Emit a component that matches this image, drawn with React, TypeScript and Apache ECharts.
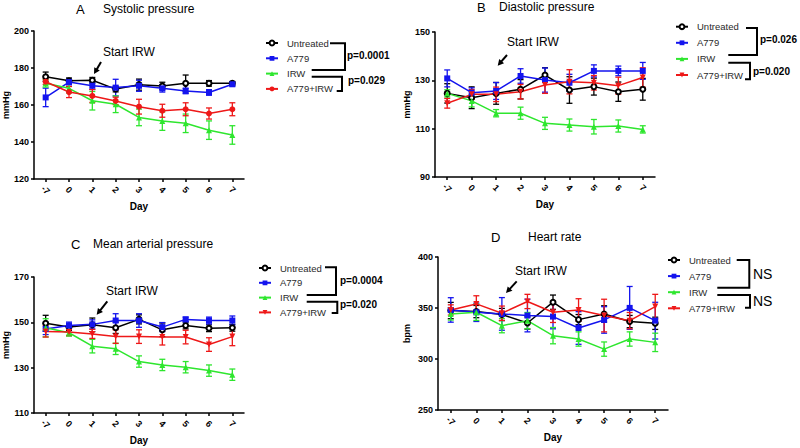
import React, { useEffect, useRef } from 'react';
import * as echarts from 'echarts';

const days = ['-7', '0', '1', '2', '3', '4', '5', '6', '7'];
const groups = ['Untreated', 'A779', 'IRW', 'A779+IRW'];

// A: Systolic pressure (mmHg)
const sbpUntreated = [175.3, 173.1, 173.4, 168.6, 171.0, 170.3, 171.7, 171.7, 171.7];
const sbpUntreatedSem = [2.5, 1.5, 1.5, 1.5, 3, 2, 4.5, 1.5, 1];
const sbpA779 = [164.1, 172.4, 170.4, 169.4, 170.4, 169.0, 167.6, 166.8, 171.2];
const sbpA779Sem = [5, 1.5, 2, 4.5, 3, 2, 1.5, 1.5, 1];
const sbpIRW = [171.7, 169.0, 162.3, 160.4, 153.3, 151.3, 150.1, 146.4, 143.8];
const sbpIRWSem = [2, 2.5, 5, 4.5, 4.5, 5, 5, 5, 5];
const sbpCombo = [172.6, 167.0, 164.9, 162.2, 159.1, 156.9, 157.7, 155.4, 157.7];
const sbpComboSem = [1.5, 3, 3.5, 2, 4, 3.5, 3.5, 3, 3.5];

// B: Diastolic pressure (mmHg)
const dbpUntreated = [124.6, 122.8, 124.6, 126.3, 132.2, 126.0, 127.4, 125.3, 126.3];
const dbpUntreatedSem = [4, 4.5, 4.5, 4, 3, 5.5, 3.5, 4, 4.5];
const dbpA779 = [130.8, 124.9, 125.6, 131.8, 130.1, 129.0, 133.9, 133.9, 133.9];
const dbpA779Sem = [3.5, 2, 3.5, 3, 5, 3.5, 2.5, 2, 3.5];
const dbpIRW = [124.6, 121.5, 116.4, 116.4, 112.2, 111.5, 110.8, 111.1, 109.7];
const dbpIRWSem = [1.5, 2.5, 1.5, 2.5, 2.5, 2.5, 3, 2.5, 1.5];
const dbpCombo = [120.5, 124.2, 124.2, 125.3, 128.1, 129.4, 129.0, 127.8, 131.2];
const dbpComboSem = [2, 2, 3, 3, 3.5, 5, 3, 3.5, 4];

// C: Mean arterial pressure (mmHg)
const mapUntreated = [149.6, 147.9, 148.9, 147.6, 151.3, 146.7, 148.6, 147.4, 147.6];
const mapUntreatedSem = [3.5, 1.5, 3, 2.5, 2, 3, 1.5, 1.5, 1.5];
const mapA779 = [147.1, 148.6, 149.1, 150.8, 150.8, 147.9, 151.3, 150.8, 150.8];
const mapA779Sem = [2.5, 1.5, 2, 3, 3, 2, 1, 1.5, 2];
const mapIRW = [147.6, 145.4, 139.5, 138.3, 132.7, 131.2, 130.2, 128.7, 126.9];
const mapIRWSem = [4, 1.5, 3, 2.5, 2.5, 2.5, 2.5, 2.5, 2.5];
const mapCombo = [146.0, 145.7, 144.9, 143.7, 143.7, 143.5, 143.5, 140.2, 143.7];
const mapComboSem = [2.5, 1.5, 2, 3, 3, 3.5, 3, 3, 4];

// D: Heart rate (bpm)
const hrUntreated = [347.5, 346.5, 343.6, 335.3, 355.7, 338.6, 344.2, 336.7, 335.0];
const hrUntreatedSem = [8, 6, 6, 6, 7, 5, 8, 6, 6];
const hrA779 = [348.1, 345.8, 344.2, 342.6, 341.6, 330.4, 338.3, 350.1, 337.6];
const hrA779Sem = [12, 9, 16, 16, 12, 16, 13, 21, 18];
const hrIRW = [344.2, 345.8, 332.7, 337.6, 322.9, 319.6, 309.7, 319.6, 316.3];
const hrIRWSem = [6, 8, 7, 8, 8, 7, 7, 7, 9];
const hrCombo = [348.1, 354.0, 344.9, 356.4, 345.8, 348.1, 342.6, 337.6, 351.4];
const hrComboSem = [5, 8, 7, 7, 10, 11, 16, 8, 12];

const COLORS = ['#000000', '#1414ee', '#2ee62e', '#ee1818'];
const FONT = 'Liberation Sans, Arial, sans-serif';
const INV_TRI = 'path://M0,0L10,0L5,9Z';

const panels = [
  {
    id: 'A', title: 'Systolic pressure', yName: 'mmHg', min: 120, max: 200, interval: 20,
    means: [sbpUntreated, sbpA779, sbpIRW, sbpCombo],
    sems: [sbpUntreatedSem, sbpA779Sem, sbpIRWSem, sbpComboSem],
    comboSymbol: 'circle',
    grid: { left: 34, top: 31, width: 210, height: 148 }, yGap: 24, xGap: 22,
    legend: { left: 265, top: 38, gap: 5.3 },
    titlePos: { letterX: 76, textX: 103, y: 10 },
    start: { x: 103, y: 53, ax: 101, ay: 62, bx: 94, by: 74 },
    brackets: [
      [[330, 43.3], [345, 43.3], [345, 70], [311.7, 70]],
      [[311.7, 76.7], [342, 76.7], [342, 91], [336.7, 91]],
    ],
    notes: [{ text: 'p=0.0001', x: 347, y: 56 }, { text: 'p=0.029', x: 348, y: 81 }],
  },
  {
    id: 'B', title: 'Diastolic pressure', yName: 'mmHg', min: 90, max: 150, interval: 20,
    means: [dbpUntreated, dbpA779, dbpIRW, dbpCombo],
    sems: [dbpUntreatedSem, dbpA779Sem, dbpIRWSem, dbpComboSem],
    comboSymbol: INV_TRI,
    grid: { left: 435, top: 32, width: 220, height: 145 }, yGap: 24, xGap: 22,
    legend: { left: 675, top: 21.7, gap: 6.1 },
    titlePos: { letterX: 477, textX: 499, y: 8 },
    start: { x: 507, y: 43, ax: 507, ay: 55, bx: 497.7, by: 65.7 },
    brackets: [
      [[746, 28], [757, 28], [757, 55], [728.3, 55]],
      [[728.3, 62.7], [750, 62.7], [750, 79.3], [745, 79.3]],
    ],
    notes: [{ text: 'p=0.026', x: 760, y: 40 }, { text: 'p=0.020', x: 753, y: 72 }],
  },
  {
    id: 'C', title: 'Mean arterial pressure', yName: 'mmHg', min: 110, max: 170, interval: 20,
    means: [mapUntreated, mapA779, mapIRW, mapCombo],
    sems: [mapUntreatedSem, mapA779Sem, mapIRWSem, mapComboSem],
    comboSymbol: INV_TRI,
    grid: { left: 34, top: 277, width: 210, height: 136 }, yGap: 24, xGap: 22,
    legend: { left: 258, top: 263, gap: 4.8 },
    titlePos: { letterX: 71, textX: 93, y: 245 },
    start: { x: 106, y: 292, ax: 107.3, ay: 301.3, bx: 96.7, by: 314.7 },
    brackets: [
      [[325, 267.3], [336, 267.3], [336, 295], [306.7, 295]],
      [[306.7, 301.7], [337.3, 301.7], [337.3, 313], [331.7, 313]],
    ],
    notes: [{ text: 'p=0.0004', x: 340, y: 281.3 }, { text: 'p=0.020', x: 340, y: 305.7 }],
  },
  {
    id: 'D', title: 'Heart rate', yName: 'bpm', min: 250, max: 400, interval: 50,
    means: [hrUntreated, hrA779, hrIRW, hrCombo],
    sems: [hrUntreatedSem, hrA779Sem, hrIRWSem, hrComboSem],
    comboSymbol: INV_TRI,
    grid: { left: 438, top: 257, width: 230, height: 153 }, yGap: 27, xGap: 22,
    legend: { left: 667, top: 255, gap: 6.1 },
    titlePos: { letterX: 491, textX: 528, y: 238 },
    start: { x: 515, y: 272, ax: 516.7, ay: 281.3, bx: 506, by: 293 },
    brackets: [
      [[736.7, 260], [749.3, 260], [749.3, 287.7], [717.3, 287.7]],
      [[717.3, 295], [750, 295], [750, 307.7], [745, 307.7]],
    ],
    notes: [{ text: 'NS', x: 753, y: 275, big: true }, { text: 'NS', x: 753, y: 302, big: true }],
  },
];

function arrow(sx: number, sy: number, ex: number, ey: number) {
  const dx = ex - sx, dy = ey - sy;
  const len = Math.sqrt(dx * dx + dy * dy);
  const ux = dx / len, uy = dy / len;
  const hl = 6, hw = 3.2;
  const bx = ex - ux * hl, by = ey - uy * hl;
  return [
    { type: 'line', shape: { x1: sx, y1: sy, x2: bx + ux, y2: by + uy }, style: { stroke: '#000', lineWidth: 2 } },
    {
      type: 'polygon',
      shape: { points: [[ex, ey], [bx - uy * hw, by + ux * hw], [bx + uy * hw, by - ux * hw]] },
      style: { fill: '#000' },
    },
  ];
}

export default function App() {
  const ref = useRef<HTMLDivElement>(null);
  useEffect(() => {
    if (!ref.current) return;
    const chart = echarts.init(ref.current, undefined, { renderer: 'svg' });

    const grid: any[] = [];
    const xAxis: any[] = [];
    const yAxis: any[] = [];
    const series: any[] = [];
    const legend: any[] = [];
    const graphic: any[] = [];

    panels.forEach((p, i) => {
      grid.push({ ...p.grid, containLabel: false });
      xAxis.push({
        type: 'category', gridIndex: i, data: days, boundaryGap: true,
        name: 'Day', nameLocation: 'middle', nameGap: p.xGap,
        nameTextStyle: { fontWeight: 'bold', fontSize: 10, color: '#000', fontFamily: FONT },
        axisLine: { show: true, lineStyle: { color: '#000', width: 1.5 } },
        axisTick: { show: true, alignWithLabel: true, length: 3, lineStyle: { color: '#000', width: 1.5 } },
        axisLabel: {
          rotate: -45, fontSize: 9, fontWeight: 'bold', color: '#000', fontFamily: FONT,
          margin: 11, align: 'center', verticalAlign: 'middle', interval: 0,
        },
        splitLine: { show: false },
      });
      yAxis.push({
        type: 'value', gridIndex: i, min: p.min, max: p.max, interval: p.interval,
        name: p.yName, nameLocation: 'middle', nameGap: p.yGap,
        nameTextStyle: { fontWeight: 'bold', fontSize: 9, color: '#000', fontFamily: FONT },
        axisLine: { show: true, lineStyle: { color: '#000', width: 1.5 } },
        axisTick: { show: true, length: 3, lineStyle: { color: '#000', width: 1.5 } },
        axisLabel: { fontSize: 9, fontWeight: 'bold', color: '#000', fontFamily: FONT, margin: 5 },
        splitLine: { show: false },
      });

      const symbols = ['emptyCircle', 'rect', 'triangle', p.comboSymbol];
      groups.forEach((g, k) => {
        const color = COLORS[k];
        const means = p.means[k];
        const sems = p.sems[k];
        series.push({
          type: 'custom', xAxisIndex: i, yAxisIndex: i, silent: true, z: 2,
          data: means.map((m, j) => [j, m - sems[j], m + sems[j]]),
          encode: { x: 0, y: [1, 2] },
          renderItem: (params: any, api: any) => {
            const lo = api.coord([api.value(0), api.value(1)]);
            const hi = api.coord([api.value(0), api.value(2)]);
            const w = 3;
            const st = { stroke: color, lineWidth: 1.3 };
            return {
              type: 'group',
              children: [
                { type: 'line', shape: { x1: lo[0], y1: lo[1], x2: hi[0], y2: hi[1] }, style: st },
                { type: 'line', shape: { x1: lo[0] - w, y1: lo[1], x2: lo[0] + w, y2: lo[1] }, style: st },
                { type: 'line', shape: { x1: hi[0] - w, y1: hi[1], x2: hi[0] + w, y2: hi[1] }, style: st },
              ],
            };
          },
        });
        series.push({
          type: 'line', name: p.id + '|' + g, xAxisIndex: i, yAxisIndex: i, z: 3,
          data: means, symbol: symbols[k], symbolSize: k === 0 ? 5 : 6, showSymbol: true,
          lineStyle: { color, width: 1.5 },
          itemStyle: { color, borderColor: color, borderWidth: k === 0 ? 1.2 : 0 },
        });
      });

      legend.push({
        orient: 'vertical', left: p.legend.left, top: p.legend.top, padding: 0,
        itemWidth: 12, itemHeight: 6, itemGap: p.legend.gap, selectedMode: false,
        data: groups.map((g) => p.id + '|' + g),
        formatter: (n: string) => n.split('|')[1],
        textStyle: { fontSize: 9.5, color: '#2a2a2a', fontFamily: FONT, lineHeight: 10, padding: [0, 0, 0, 4] },
      });

      graphic.push({
        type: 'text', left: p.titlePos.letterX, top: p.titlePos.y - 7,
        style: { text: p.id, fontSize: 13, fill: '#000', fontFamily: FONT },
      });
      graphic.push({
        type: 'text', left: p.titlePos.textX, top: p.titlePos.y - 7,
        style: { text: p.title, fontSize: 12, fill: '#000', fontFamily: FONT },
      });
      graphic.push({
        type: 'text', left: p.start.x, top: p.start.y - 7,
        style: { text: 'Start IRW', fontSize: 12, fill: '#000', fontFamily: FONT },
      });
      arrow(p.start.ax, p.start.ay, p.start.bx, p.start.by).forEach((e) => graphic.push(e));
      p.brackets.forEach((pts) => {
        graphic.push({ type: 'polyline', shape: { points: pts }, style: { stroke: '#000', lineWidth: 2, fill: null } });
      });
      p.notes.forEach((n: any) => {
        graphic.push({
          type: 'text', left: n.x, top: n.y - (n.big ? 8 : 6),
          style: {
            text: n.text, fontSize: n.big ? 14 : 10, fontWeight: n.big ? 'normal' : 'bold',
            fill: '#000', fontFamily: FONT,
          },
        });
      });
    });

    chart.setOption({
      animation: false,
      backgroundColor: '#ffffff',
      textStyle: { fontFamily: FONT },
      grid, xAxis, yAxis, series, legend, graphic,
    });
    return () => chart.dispose();
  }, []);

  return (
    <div
      ref={ref}
      style={{ position: 'absolute', left: 0, top: 0, width: 800, height: 448, background: '#fff' }}
    />
  );
}
